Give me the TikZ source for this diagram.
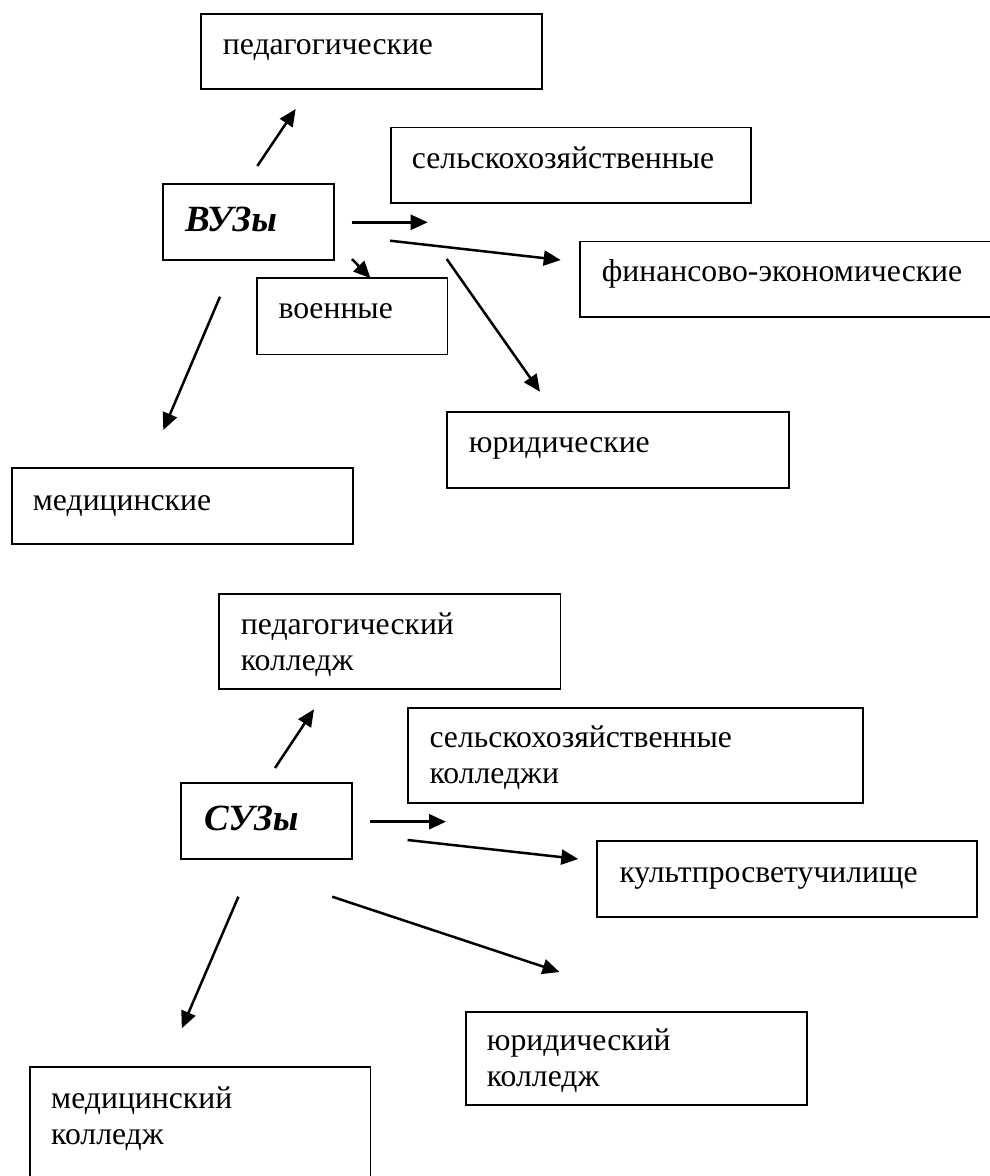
\documentclass[tikz,border=0pt]{standalone}
\usepackage{fontspec}
\setmainfont{Liberation Serif}
\usetikzlibrary{arrows.meta,fit}
\begin{document}
\begin{tikzpicture}[x=1pt,y=-1pt,
  box/.style={draw, line width=1.8pt, inner sep=0pt},
  lbl/.style={inner sep=0pt, anchor=base west, font=\fontsize{31.7}{36}\selectfont},
  ttl/.style={inner sep=0pt, anchor=base west, font=\fontsize{37}{40}\selectfont\bfseries\itshape},
  arr/.style={line width=2.5pt, -{Triangle[length=17pt,width=15pt]}}]
\clip (0,0) rectangle (990,1176);
\fill[white] (0,0) rectangle (990,1176);

% ---------- upper diagram ----------
\node[box, fit={(200.7,14) (542.3,89.3)}] (ped) {};
\node[lbl] (ped-t) at (222.7,54.3) {педагогические};
\node[box, fit={(390.7,127.5) (750.7,203.3)}] (sel) {};
\node[lbl] (sel-t) at (411.7,168.3) {сельскохозяйственные};
\node[box, fit={(162.7,184) (334,260)}] (vuz) {};
\node[ttl] (vuz-t) at (185,231.7) {ВУЗы};
\node[box, fit={(579.8,241.5) (1000,317.3)}] (fin) {};
\node[lbl] (fin-t) at (601.7,281.7) {финансово-экономические};
\node[box, fit={(257.3,278.3) (447.5,354.5)}] (voen) {};
\node[lbl] (voen-t) at (278.3,318.3) {военные};
\node[box, fit={(447,411.7) (788.6,487.7)}] (yur) {};
\node[lbl] (yur-t) at (468.7,452.7) {юридические};
\node[box, fit={(11.7,468.3) (353.3,544.3)}] (med) {};
\node[lbl] (med-t) at (32.7,510) {медицинские};

\coordinate (a1s) at (257.3,166);   \coordinate (a1e) at (295.7,109);
\coordinate (a2s) at (351.7,222.3); \coordinate (a2e) at (427.7,222.3);
\coordinate (a3s) at (390,240.7);   \coordinate (a3e) at (560.7,260);
\coordinate (a4s) at (352,259);     \coordinate (a4e) at (370.5,278.3);
\coordinate (a5s) at (446.7,259);   \coordinate (a5e) at (540,391.7);
\coordinate (a6s) at (220,296.7);   \coordinate (a6e) at (163.3,430);
\draw[arr] (a1s) -- (a1e);
\draw[arr] (a2s) -- (a2e);
\draw[arr] (a3s) -- (a3e);
\draw[arr] (a4s) -- (a4e);
\draw[arr] (a5s) -- (a5e);
\draw[arr] (a6s) -- (a6e);

% ---------- lower diagram ----------
\node[box, fit={(219,594) (560.5,689.3)}] (pedk) {};
\node[lbl] (pedk-t1) at (240.7,634.3) {педагогический};
\node[lbl] (pedk-t2) at (240.7,670.3) {колледж};
\node[box, fit={(408.3,707.7) (863,802.7)}] (selk) {};
\node[lbl] (selk-t1) at (429.3,747) {сельскохозяйственные};
\node[lbl] (selk-t2) at (429.3,783) {колледжи};
\node[box, fit={(180.6,783.3) (352,859.3)}] (suz) {};
\node[ttl] (suz-t) at (204,830) {СУЗы};
\node[box, fit={(597.3,840.7) (976.7,916.7)}] (kult) {};
\node[lbl] (kult-t) at (619.3,882.3) {культпросветучилище};
\node[box, fit={(466,1011.7) (806.7,1105)}] (yurk) {};
\node[lbl] (yurk-t1) at (486.7,1050.7) {юридический};
\node[lbl] (yurk-t2) at (486.7,1086.7) {колледж};
\node[box, fit={(29.9,1067.3) (370.5,1190)}] (medk) {};
\node[lbl] (medk-t1) at (51,1108.3) {медицинский};
\node[lbl] (medk-t2) at (51,1144.3) {колледж};

\coordinate (b1s) at (275,768);     \coordinate (b1e) at (314,709.3);
\coordinate (b2s) at (369.5,821.7); \coordinate (b2e) at (446,821.7);
\coordinate (b3s) at (407.6,840);   \coordinate (b3e) at (578.3,859);
\coordinate (b4s) at (332.2,896.7); \coordinate (b4e) at (559.5,972);
\coordinate (b5s) at (238.4,896.7); \coordinate (b5e) at (181.8,1028.3);
\draw[arr] (b1s) -- (b1e);
\draw[arr] (b2s) -- (b2e);
\draw[arr] (b3s) -- (b3e);
\draw[arr] (b4s) -- (b4e);
\draw[arr] (b5s) -- (b5e);
\end{tikzpicture}
\end{document}
